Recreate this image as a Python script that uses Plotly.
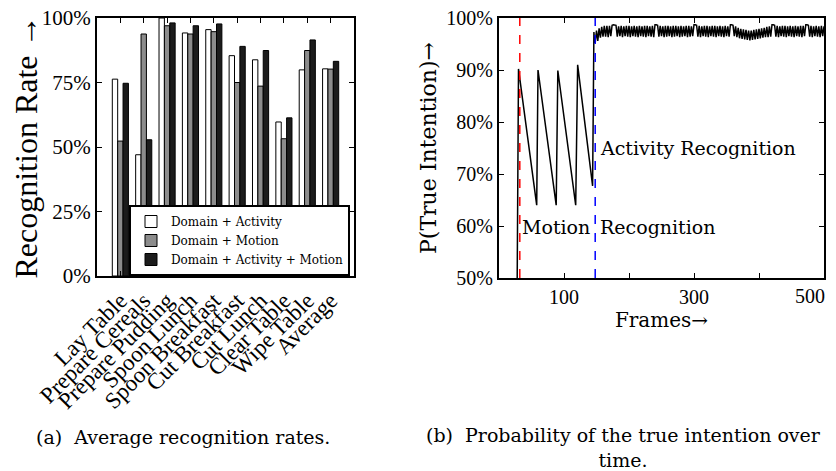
import plotly.graph_objects as go

# (a) average recognition rates, in percent
activities = ['Lay Table', 'Prepare Cereals', 'Prepare Pudding', 'Spoon Lunch',
              'Spoon Breakfast', 'Cut Breakfast', 'Cut Lunch', 'Clear Table',
              'Wipe Table', 'Average']
domain_activity = [76.3, 47.0, 100.0, 94.2, 95.5, 85.4, 83.8, 59.7, 79.9, 80.3]
domain_motion = [52.3, 93.8, 97.0, 93.8, 94.7, 75.0, 73.6, 53.2, 87.4, 80.2]
domain_activity_motion = [74.7, 52.8, 98.1, 97.0, 97.7, 89.0, 87.4, 61.3, 91.5, 83.2]
rate_ticks = [0, 25, 50, 75, 100]

# (b) probability of the true intention over time, in percent
motion_frames = [28, 30, 58, 60, 88, 90.5, 118, 121, 144, 146, 147]
motion_prob = [50.0, 90.2, 64.0, 90.0, 64.0, 89.9, 64.0, 91.0, 67.7, 97.3, 95.5]
activity_frames = list(range(148, 501, 2))
activity_prob = [
    95.2, 97.6, 95.6, 98.0, 96.2, 98.3, 96.4, 98.5, 96.4, 98.5, 96.3, 98.5, 96.5,
    98.6, 98.7, 98.7, 98.6, 96.4, 98.4, 96.5, 98.5, 96.3, 98.4, 96.5, 98.5, 96.4,
    98.5, 96.3, 98.4, 96.5, 98.5, 96.4, 98.4, 96.3, 98.5, 96.5, 98.4, 96.4, 98.5,
    96.3, 98.5, 96.5, 98.4, 96.4, 98.5, 96.3, 98.7, 98.7, 98.6, 96.4, 98.5, 96.5,
    98.4, 96.3, 98.5, 96.4, 98.5, 96.5, 98.4, 96.3, 98.5, 96.4, 98.5, 96.5, 98.4,
    96.3, 98.5, 96.4, 98.4, 96.5, 98.5, 96.3, 98.5, 96.4, 98.4, 96.5, 98.7, 98.7,
    98.6, 96.4, 98.5, 96.3, 98.4, 96.5, 98.5, 96.4, 98.5, 96.3, 98.4, 96.5, 98.5,
    96.4, 98.5, 96.3, 98.4, 96.5, 98.5, 96.4, 98.4, 96.3, 98.5, 96.5, 98.4, 96.4,
    98.7, 98.7, 98.6, 96.5, 98.4, 96.3, 98.1, 96.1, 97.9, 96.0, 97.8, 95.9, 97.7,
    95.8, 97.6, 95.7, 97.6, 95.8, 97.7, 95.9, 97.8, 96.0, 97.9, 96.1, 98.0, 96.2,
    98.1, 96.3, 98.3, 96.3, 98.4, 96.4, 98.7, 98.7, 98.6, 96.4, 98.5, 96.3, 98.4,
    96.5, 98.5, 96.4, 98.5, 96.3, 98.4, 96.5, 98.5, 96.4, 98.4, 96.3, 98.5, 96.5,
    98.4, 96.4, 98.5, 96.3, 98.5, 96.5, 98.7, 98.7, 98.6, 96.4, 98.5, 96.3, 98.4,
    96.5, 98.5, 96.4, 98.4, 96.3, 98.5, 96.5, 98.4,
]
prob_ticks = [50, 60, 70, 80, 90, 100]
frame_ticks = [100, 200, 300, 400, 500]
frame_ticktext = ['100', '', '300', '', '500']
motion_start = 32
activity_start = 148

SERIF_A = 'Liberation Serif'
SERIF_B = 'DejaVu Serif'

# the page body has an 8px margin, so size the figure to fit the window
OFF = 8
W, H = 836 - OFF, 471 - OFF


def fx(px):
    return (px - OFF) / W


def fy(py):
    return 1 - (py - OFF) / H


fig = go.Figure()

bar_styles = [('Domain + Activity', domain_activity, 'white'),
              ('Domain + Motion', domain_motion, '#8c8c8c'),
              ('Domain + Activity + Motion', domain_activity_motion, '#1c1c1c')]
for name, vals, color in bar_styles:
    fig.add_trace(go.Bar(
        x=activities, y=vals, name=name, xaxis='x', yaxis='y',
        marker=dict(color=color, line=dict(color='black', width=1))
    ))

fig.add_trace(go.Scatter(
    x=motion_frames + activity_frames, y=motion_prob + activity_prob,
    mode='lines', line=dict(color='black', width=1.5),
    xaxis='x2', yaxis='y2', showlegend=False
))

axis_common = dict(showline=True, linecolor='black', linewidth=2, mirror='ticks',
                   ticks='inside', ticklen=5, tickcolor='black', showgrid=False,
                   zeroline=False, automargin=False, ticklabeloverflow='allow')

fig.update_layout(
    width=W, height=H,
    margin=dict(l=0, r=0, t=0, b=0, autoexpand=False),
    paper_bgcolor='white', plot_bgcolor='white',
    font=dict(family=SERIF_A, color='black'),
    barmode='group', bargap=0.31, bargroupgap=0,
    xaxis=dict(axis_common, domain=[fx(97), fx(354)], range=[-1, 10],
               tickmode='array', tickvals=activities,
               tickangle=-45, tickfont=dict(size=23), anchor='y'),
    yaxis=dict(axis_common, domain=[fy(276), fy(18)], range=[0, 100],
               tickvals=rate_ticks, ticktext=[f'{v}%' for v in rate_ticks],
               tickfont=dict(size=21), anchor='x',
               title=dict(text='Recognition Rate →', font=dict(size=32), standoff=6)),
    # last frame label is drawn as an annotation so it stays inside the page
    xaxis2=dict(axis_common, domain=[fx(499), fx(824)], range=[0, 500],
                tickvals=frame_ticks, ticktext=frame_ticktext[:-1] + [''],
                tickfont=dict(size=20), anchor='y2',
                title=dict(text='Frames→', font=dict(family=SERIF_B, size=20), standoff=0)),
    yaxis2=dict(axis_common, domain=[fy(278), fy(18)], range=[50, 100],
                tickvals=prob_ticks, ticktext=[f'{v}%' for v in prob_ticks],
                tickfont=dict(size=20), anchor='x2',
                title=dict(text='P(True Intention)→', font=dict(family=SERIF_B, size=22),
                           standoff=4)),
    legend=dict(x=fx(350), y=fy(276), xanchor='right', yanchor='bottom',
                bgcolor='white', bordercolor='black', borderwidth=2,
                font=dict(family=SERIF_B, size=12), tracegroupgap=0,
                traceorder='normal'),
)

fig.add_annotation(text=frame_ticktext[-1], x=frame_ticks[-1], y=0,
                   xref='x2', yref='y2 domain', xanchor='center', yanchor='top',
                   xshift=-14, yshift=-5, showarrow=False, font=dict(size=20))

for x0, color in [(motion_start, 'red'), (activity_start, 'blue')]:
    fig.add_shape(type='line', xref='x2', yref='y2 domain', x0=x0, x1=x0, y0=0, y1=1,
                  line=dict(color=color, width=1.5, dash='dash'))

text_labels = [('Motion', motion_start + 1, 59.8),
               ('Recognition', activity_start + 5, 59.8),
               ('Activity Recognition', activity_start + 5, 75)]
for text, x, y in text_labels:
    fig.add_annotation(text=text, x=x, y=y, xref='x2', yref='y2', xanchor='left',
                       showarrow=False, font=dict(family=SERIF_B, size=19))

captions = [('(a)  Average recognition rates.', fx(183), fy(437)),
            ('(b)  Probability of the true intention over<br>time.', fx(623), fy(447))]
for text, x, y in captions:
    fig.add_annotation(text=text, x=x, y=y, xref='paper', yref='paper',
                       xanchor='center', yanchor='middle',
                       showarrow=False, font=dict(family=SERIF_B, size=19))

fig.write_html('out.html')
